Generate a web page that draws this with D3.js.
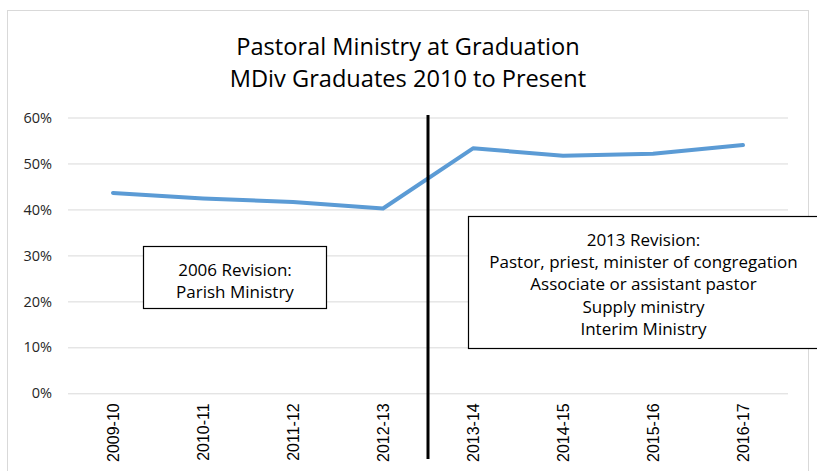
<!DOCTYPE html>
<html>
<head>
<meta charset="utf-8">
<script src="https://cdn.jsdelivr.net/npm/d3@7"></script>
<style>
  body { margin: 0; background: #fff; }
  svg { display: block; font-family: "Open Sans", "Liberation Sans", sans-serif; }
</style>
</head>
<body>
<div id="chart"></div>
<script>
var years = ["2009-10", "2010-11", "2011-12", "2012-13", "2013-14", "2014-15", "2015-16", "2016-17"];
var pastoralShare = [0.436, 0.424, 0.416, 0.402, 0.533, 0.517, 0.521, 0.540];
var yTicks = [0, 0.1, 0.2, 0.3, 0.4, 0.5, 0.6];
var titleLines = ["Pastoral Ministry at Graduation", "MDiv Graduates 2010 to Present"];
var box2006 = ["2006 Revision:", "Parish Ministry"];
var box2013 = ["2013 Revision:", "Pastor, priest, minister of congregation", "Associate or assistant pastor", "Supply ministry", "Interim Ministry"];

var width = 817, height = 471;
var plot = { left: 68, right: 788, top: 117.5, bottom: 393.3 };

var svg = d3.select("#chart")
    .append("svg")
    .attr("width", width)
    .attr("height", height);

// chart frame
svg.append("rect")
    .attr("x", 7.5).attr("y", 10.5)
    .attr("width", 801).attr("height", 480)
    .attr("fill", "#fff")
    .attr("stroke", "#d9d9d9");

// title
svg.append("g").selectAll("text")
    .data(titleLines)
    .enter().append("text")
    .attr("x", 408)
    .attr("y", function (d, i) { return 55 + i * 32; })
    .attr("text-anchor", "middle")
    .style("font-size", "23.6px")
    .style("fill", "#000")
    .text(function (d) { return d; });

var xScale = d3.scalePoint()
    .domain(years)
    .range([plot.left, plot.right])
    .padding(0.5);

var yScale = d3.scaleLinear()
    .domain([0, 0.6])
    .range([plot.bottom, plot.top]);

// gridlines + y labels
var yAxis = svg.append("g")
    .attr("transform", "translate(" + plot.left + ",0)")
    .call(d3.axisLeft(yScale)
        .tickValues(yTicks)
        .tickSize(-(plot.right - plot.left))
        .tickPadding(16)
        .tickFormat(d3.format(".0%")));
yAxis.select(".domain").remove();
yAxis.selectAll(".tick line").attr("stroke", "#d9d9d9").attr("stroke-width", 1);
yAxis.selectAll("text")
    .style("font-size", "14.5px")
    .style("font-family", "'Open Sans', sans-serif")
    .style("fill", "#262626");

// x labels
var xAxis = svg.append("g")
    .attr("transform", "translate(0," + plot.bottom + ")")
    .call(d3.axisBottom(xScale).tickSize(0));
xAxis.select(".domain").remove();
xAxis.selectAll("text")
    .attr("transform", "rotate(-90)")
    .attr("x", -10)
    .attr("y", 0)
    .attr("dy", "0.35em")
    .style("text-anchor", "end")
    .style("font-size", "16px")
    .style("font-family", "'Liberation Sans', Arial, sans-serif")
    .style("fill", "#000");

// data line
var line = d3.line()
    .x(function (d, i) { return xScale(years[i]); })
    .y(function (d) { return yScale(d); });

svg.append("path")
    .datum(pastoralShare)
    .attr("fill", "none")
    .attr("stroke", "#5b9bd5")
    .attr("stroke-width", 4)
    .attr("stroke-linejoin", "round")
    .attr("stroke-linecap", "round")
    .attr("d", line);

// revision divider
var divX = (xScale("2012-13") + xScale("2013-14")) / 2;
svg.append("line")
    .attr("x1", divX).attr("x2", divX)
    .attr("y1", 115).attr("y2", 459)
    .attr("stroke", "#000")
    .attr("stroke-width", 3);

// annotation boxes
function noteBox(lines, x, y, w, h, firstY) {
    var g = svg.append("g");
    g.append("rect")
        .attr("x", x).attr("y", y)
        .attr("width", w).attr("height", h)
        .attr("fill", "#fff")
        .attr("stroke", "#000")
        .attr("stroke-width", 1.2);
    g.selectAll("text")
        .data(lines)
        .enter().append("text")
        .attr("x", x + w / 2)
        .attr("y", function (d, i) { return firstY + i * 22.2; })
        .attr("text-anchor", "middle")
        .style("font-size", "17px")
        .style("fill", "#000")
        .text(function (d) { return d; });
}

noteBox(box2006, 143.5, 246.5, 183, 62, 276);
noteBox(box2013, 468.5, 216.5, 350, 132, 246);
</script>
</body>
</html>
